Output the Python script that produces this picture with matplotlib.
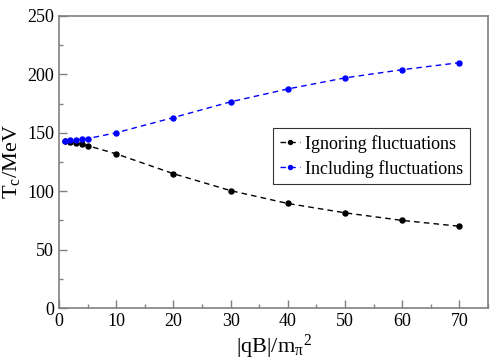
import matplotlib
matplotlib.use("Agg")
import matplotlib.pyplot as plt
from matplotlib.ticker import MultipleLocator

plt.rcParams['font.family'] = ['Liberation Serif', 'DejaVu Serif']
plt.rcParams['mathtext.fontset'] = 'custom'
plt.rcParams['mathtext.rm'] = 'Liberation Serif'
plt.rcParams['mathtext.it'] = 'Liberation Serif'

qB = [1, 2, 3, 4, 5, 10, 20, 30, 40, 50, 60, 70]
tc_ignoring = [143, 142.5, 141.5, 140, 139, 132, 115, 100.5, 89.5, 81.5, 75, 70]
tc_including = [143, 143.5, 144, 144.5, 145, 150, 163, 176.5, 187.5, 197, 204, 210]

fig = plt.figure(figsize=(4.91, 3.62), dpi=100)
ax = fig.add_axes([0.120, 0.149, 0.874, 0.807])

ax.plot(qB, tc_ignoring, '--o', color='black', ms=3.6, lw=1, dashes=(4, 3),
        label='Ignoring fluctuations')
ax.plot(qB, tc_including, '--o', color='blue', ms=3.6, lw=1, dashes=(4, 3),
        label='Including fluctuations')

ax.set_xlim(0, 75)
ax.set_ylim(0, 250)
ax.xaxis.set_major_locator(MultipleLocator(10))
ax.xaxis.set_minor_locator(MultipleLocator(5))
ax.yaxis.set_major_locator(MultipleLocator(50))
ax.yaxis.set_minor_locator(MultipleLocator(25))
ax.tick_params(which='both', direction='in', colors='#808080', labelcolor='black',
               labelsize=13, top=False, right=False)
ax.tick_params(which='major', length=6, width=1)
ax.tick_params(which='minor', length=3, width=1)
for s in ax.spines.values():
    s.set_color('#808080')
    s.set_linewidth(1.2)

ax.set_xlabel(r'|qB|/m$_{\pi}$$^{2}$', fontsize=16, labelpad=2)
ax.set_ylabel(r'T$_{\rm c}$/MeV', fontsize=16, labelpad=4)

leg = ax.legend(loc='center left', bbox_to_anchor=(0.50, 0.52), fontsize=13,
                frameon=True, fancybox=False, handlelength=1.1, handletextpad=0.3,
                borderpad=0.35, labelspacing=0.4, markerscale=0.8, borderaxespad=0)
leg.get_frame().set_edgecolor('black')
leg.get_frame().set_linewidth(0.8)

fig.savefig('out.png', dpi=100)
